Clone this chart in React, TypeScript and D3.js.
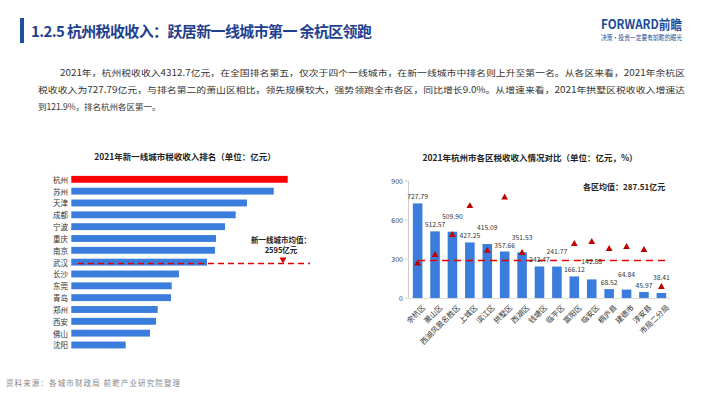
import React from 'react';
import * as d3 from 'd3';

const cities = ['杭州', '苏州', '天津', '成都', '宁波', '重庆', '南京', '武汉', '长沙', '东莞', '青岛', '郑州', '西安', '佛山', '沈阳'];
const cityTax = [4312.7, 4034, 3501, 3276, 3063, 2884, 2864, 2705, 2146, 2001, 1987, 1722, 1688, 1568, 1084];
const cityAvg = 2595;

const districts = ['余杭区', '萧山区', '西湖风景名胜区', '上城区', '滨江区', '拱墅区', '西湖区', '钱塘区', '临平区', '富阳区', '临安区', '桐庐县', '建德市', '淳安县', '市局二分局'];
const districtTax = [727.79, 512.57, 509.9, 427.25, 415.09, 357.66, 351.53, 242.47, 241.77, 166.12, 142.88, 68.52, 64.84, 45.97, 38.41];
const districtGrowth: (number | null)[] = [9.0, 23.5, 57.7, 107, 30.9, 121.9, 26.9, null, null, 42.3, 45.7, 33.8, 37.2, 32, -31.2];
const districtAvg = 287.51;
const taxTicks = [0, 300, 600, 900];

const BLUE = '#3b7ddd';
const RED = '#ff0000';
const DARKRED = '#c00000';
const FONT = '"Noto Sans CJK SC", "Noto Sans", sans-serif';

export default function App() {
  // left chart
  const yL = d3.scaleBand<string>().domain(cities).range([173.4, 350.9]).paddingInner(0.42).paddingOuter(0.21);
  const xL = d3.scaleLinear().domain([0, 4500]).range([71.3, 71.3 + 4500 * 0.05018]);

  // right chart
  const xR = d3.scaleBand<string>().domain(districts).range([409, 670]).paddingInner(0.45).paddingOuter(0.22);
  const yR = d3.scaleLinear().domain([0, 900]).range([298, 181]);
  const yG = d3.scaleLinear().domain([-50, 150]).range([298, 181]);
  const tri = d3.symbol().type(d3.symbolTriangle).size(20)() as string;

  const wuhanY = (yL('武汉') as number) + yL.bandwidth() * 0.7;

  // value label placement: shift up when colliding with previous label
  const labelY: number[] = [];
  districtTax.forEach((v, i) => {
    let y = yR(v) - 4;
    if (i > 0 && Math.abs(y - labelY[i - 1]) < 8) y = labelY[i - 1] - 8;
    labelY.push(y);
  });

  return (
    <svg width={710} height={399} style={{ position: 'absolute', left: 0, top: 0, background: '#fff' }} fontFamily={FONT}>
      {/* header */}
      <rect x={20} y={18} width={4} height={25} fill="#1f4e9e" />
      <text x={31} y={37} fontSize={15} fontWeight="bold" fill="#1f3f8f" textLength={341} lengthAdjust="spacing">
        1.2.5 杭州税收收入：跃居新一线城市第一 余杭区领跑
      </text>
      <text x={601} y={29} fontSize={13} fontWeight="bold" fill="#1d4c9a" textLength={81} lengthAdjust="spacingAndGlyphs">FORWARD前瞻</text>
      <text x={601} y={40} fontSize={6.5} fill="#1d4c9a" textLength={81} lengthAdjust="spacingAndGlyphs">决策·投资一定要有前瞻的眼光</text>

      {/* paragraph */}
      <g fontSize={8.5} fill="#333">
        <text x={60} y={76} textLength={625} lengthAdjust="spacingAndGlyphs">2021年，杭州税收收入4312.7亿元，在全国排名第五，仅次于四个一线城市，在新一线城市中排名则上升至第一名。从各区来看，2021年余杭区</text>
        <text x={38} y={93} textLength={647} lengthAdjust="spacingAndGlyphs">税收收入为727.79亿元，与排名第二的萧山区相比，领先规模较大，强势领跑全市各区，同比增长9.0%。从增速来看，2021年拱墅区税收收入增速达</text>
        <text x={38} y={110}>到121.9%，排名杭州各区第一。</text>
      </g>

      {/* left chart */}
      <text x={185} y={160} fontSize={8.5} fontWeight="bold" fill="#222" textAnchor="middle">2021年新一线城市税收收入排名（单位：亿元）</text>
      {cities.map((c, i) => (
        <g key={c}>
          <rect x={xL(0)} y={yL(c)} width={xL(cityTax[i]) - xL(0)} height={yL.bandwidth()} fill={i === 0 ? RED : BLUE} />
          <text x={68} y={(yL(c) as number) + yL.bandwidth() / 2} fontSize={7.5} fill="#333" textAnchor="end" dominantBaseline="central">{c}</text>
        </g>
      ))}
      <line x1={78} x2={310} y1={wuhanY} y2={wuhanY} stroke="#e00000" strokeWidth={1.5} strokeDasharray="6,4" />
      <path d={d3.symbol().type(d3.symbolTriangle).size(22)() as string} transform={`translate(283,259.5) rotate(180)`} fill="#e00000" />
      <text x={281} y={243} fontSize={7.5} fontWeight="bold" fill="#222" textAnchor="middle">新一线城市均值：</text>
      <text x={281} y={253} fontSize={7.5} fontWeight="bold" fill="#222" textAnchor="middle">{cityAvg}亿元</text>

      {/* right chart */}
      <text x={530} y={161} fontSize={8.5} fontWeight="bold" fill="#222" textAnchor="middle">2021年杭州市各区税收收入情况对比（单位：亿元，%）</text>
      <line x1={408.5} x2={408.5} y1={181} y2={298} stroke="#ccc" />
      {taxTicks.map(t => (
        <g key={t}>
          <line x1={405} x2={408.5} y1={yR(t)} y2={yR(t)} stroke="#ccc" />
          <text x={403} y={yR(t)} fontSize={7} fill="#444" textAnchor="end" dominantBaseline="central">{t}</text>
        </g>
      ))}
      {districts.map((d, i) => (
        <rect key={d} x={xR(d)} y={yR(districtTax[i])} width={xR.bandwidth()} height={yR(0) - yR(districtTax[i])} fill={BLUE} />
      ))}
      <line x1={408.5} x2={670} y1={298.5} y2={298.5} stroke="#ddd" />
      <line x1={418} x2={670} y1={yR(districtAvg)} y2={yR(districtAvg)} stroke="#e00000" strokeWidth={1.5} strokeDasharray="7,5" />
      {districts.map((d, i) => {
        const cx = (xR(d) as number) + xR.bandwidth() / 2;
        const g = districtGrowth[i];
        return (
          <g key={d + 'l'}>
            {g !== null && <path d={tri} transform={`translate(${cx},${yG(g)})`} fill={DARKRED} />}
            <text x={cx} y={labelY[i]} fontSize={6.8} fill="#333" textAnchor="middle">{districtTax[i].toFixed(2)}</text>
            <text x={cx + 3} y={303} fontSize={7.5} fill="#333" textAnchor="end" dominantBaseline="hanging" transform={`rotate(-45 ${cx + 3} 303)`}>{d}</text>
          </g>
        );
      })}
      <text x={583} y={190} fontSize={8} fontWeight="bold" fill="#222">各区均值：{districtAvg}亿元</text>

      {/* footer */}
      <text x={6} y={386} fontSize={7.5} fill="#888" textLength={174} lengthAdjust="spacing">资料来源：各城市财政局 前瞻产业研究院整理</text>
    </svg>
  );
}
